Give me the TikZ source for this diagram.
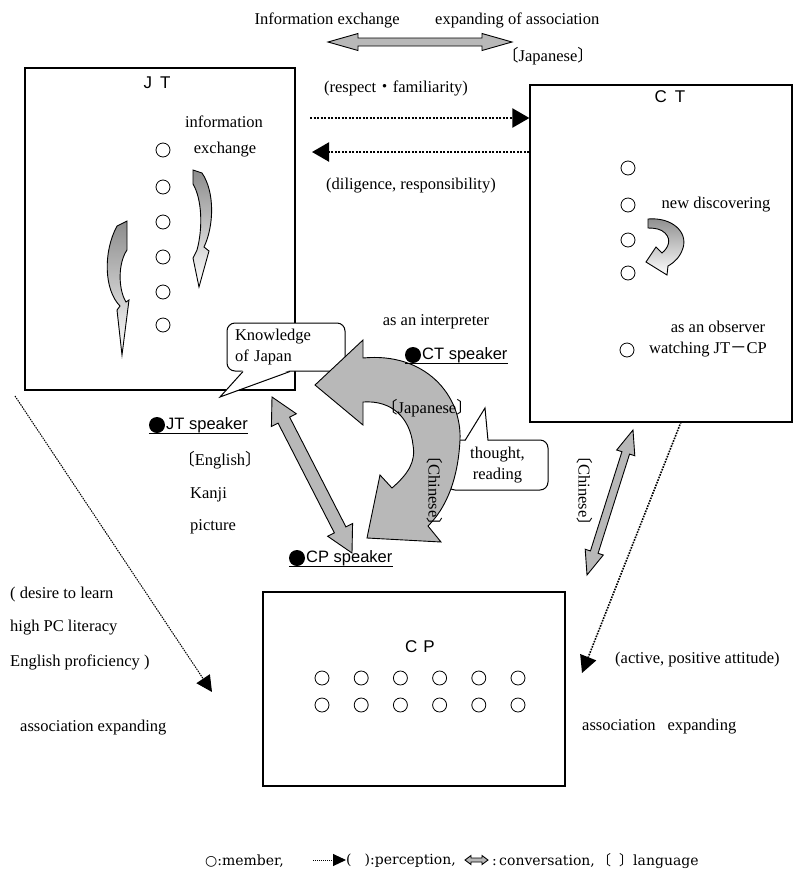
\documentclass[tikz,border=0pt]{standalone}
\usepackage{fontspec}
\setmainfont{Liberation Serif}
\setsansfont{Liberation Sans}
\newfontfamily\cjk{Noto Sans CJK JP}
\newfontfamily\legfont{DejaVu Serif}
\newfontfamily\symfont{DejaVu Sans}
\usepackage{tikz}
\usetikzlibrary{positioning,arrows.meta,calc}
\newcommand{\lbr}{\kern-0.45em{\cjk 〔}}
\newcommand{\rbr}{{\cjk 〕}\kern-0.45em}
\tikzset{
  >={Triangle[length=17pt,width=19pt]},
  lbl/.style={font=\fontsize{16.5}{20}\selectfont,inner sep=0pt},
  ttl/.style={font=\sffamily\fontsize{17}{20}\selectfont,inner sep=0pt},
  spk/.style={font=\sffamily\fontsize{16.5}{20}\selectfont,inner sep=0pt,anchor=west},
  grpbox/.style={draw,line width=1.2pt,inner sep=0pt},
  memb/.style={circle,draw,line width=0.8pt,minimum size=14pt,inner sep=0pt},
  spkdot/.style={circle,fill,minimum size=16pt,inner sep=0pt},
  perc/.style={->,line width=2.2pt,dash pattern=on 2pt off 1.5pt},
  percthin/.style={-{Triangle[length=16pt,width=16pt]},line width=1pt,dash pattern=on 1.5pt off 1pt},
  conv/.style={draw,line width=0.9pt,fill=black!28,line join=miter},
  bubble/.style={draw,line width=1pt,fill=white,rounded corners=8pt,inner sep=0pt,align=left,
    font=\fontsize{16.5}{21}\selectfont},
  turn/.style={draw,line width=0.9pt,top color=black!45,middle color=white,bottom color=white},
  leg/.style={font=\legfont\fontsize{14}{16}\selectfont,inner sep=0pt,anchor=west},
}
% hollow double arrow between two named points
\newcommand{\convarrow}[5]{%
  \path (#1) coordinate (ca) (#2) coordinate (cb);
  \path ($(ca)!#5!(cb)$) coordinate (ca1) ($(cb)!#5!(ca)$) coordinate (cb1);
  \draw[conv] (ca) -- ($(ca1)!#4!90:(cb)$) -- ($(ca1)!#3!90:(cb)$)
    -- ($(cb1)!#3!-90:(ca)$) -- ($(cb1)!#4!-90:(ca)$) -- (cb)
    -- ($(cb1)!#4!90:(ca)$) -- ($(cb1)!#3!90:(ca)$)
    -- ($(ca1)!#3!-90:(cb)$) -- ($(ca1)!#4!-90:(cb)$) -- cycle;
}
\begin{document}
\begin{tikzpicture}[x=1pt,y=-1pt]
  \useasboundingbox (0,0) rectangle (799,871);
  % group boxes
  \node[grpbox,minimum width=270pt,minimum height=322pt] (jt) at (160,229) {};
  \node[grpbox,minimum width=262pt,minimum height=337pt] (ct) at (661,253.5) {};
  \node[grpbox,minimum width=302pt,minimum height=194pt] (cp) at (414,689) {};
  \node[ttl] (jtname) at (157,83) {J\hspace{8pt}T};
  \node[ttl] (ctname) at (670,97) {C\hspace{8pt}T};
  \node[ttl] (cpname) at (420,647) {C\hspace{6pt}P};
  % members
  \foreach \y [count=\i] in {150,187,222,257,292,325} {\node[memb] (jtm\i) at (163,\y) {};}
  \foreach \y [count=\i] in {168,205,240,273} {\node[memb] (ctm\i) at (628,\y) {};}
  \node[memb] (ctobs) at (627,350) {};
  \foreach \i in {0,...,5} {
    \node[memb] (cpa\i) at (322+39.2*\i,678) {};
    \node[memb] (cpb\i) at (322+39.2*\i,705) {};}
  % inside JT
  \node[lbl] (jtinfo) at (224,122) {information};
  \node[lbl] (jtexch) at (225,150) {exchange};
  \draw[turn] (193,170) -- (202,173) .. controls (215,192) and (214,226) .. (204,247) -- (209,251) -- (199,287)
    -- (193,258) -- (197,250) .. controls (203,228) and (202,199) .. (193,184) -- cycle;
  \draw[turn] (117,226) -- (127,221) -- (127,250) .. controls (118,263) and (118,289) .. (126,302) -- (129,300)
    -- (122,355) -- (117,310) -- (120,306) .. controls (104,290) and (103,252) .. (117,226) -- cycle;
  % inside CT
  \node[lbl] (ctnew) at (716,205) {new discovering};
  \draw[turn] (648,219) .. controls (672,217) and (688,232) .. (683,248) .. controls (680,257) and (675,262) .. (668,266)
    -- (667,275) -- (646,262) -- (656,247) -- (662,253) .. controls (668,248) and (672,240) .. (665,233)
    .. controls (661,229) and (655,228) .. (648,228) -- cycle;
  \node[lbl] (ctobsl) at (718,327) {as an observer};
  \node[lbl] (ctwatch) at (708,350) {watching JT{\cjk －}CP};
  % top conversation
  \node[lbl,anchor=east] (topl) at (400,20) {Information exchange};
  \node[lbl,anchor=west] (topr) at (435,20) {expanding of association};
  \coordinate (tca) at (328,42);
  \coordinate (tcb) at (512,42);
  \convarrow{tca}{tcb}{4pt}{8.5pt}{30pt}
  \node[lbl] (topjp) at (548,56) {\lbr Japanese\rbr};
  % perception JT - CT
  \node[lbl] (resp) at (396,88) {(respect{\cjk ・}familiarity)};
  \coordinate (p1a) at (310,118);
  \draw[perc] (p1a) -- (ct.west |- p1a);
  \coordinate (p2b) at (312,152);
  \draw[perc] (ct.west |- p2b) -- (p2b);
  \node[lbl] (dili) at (411,186) {(diligence, responsibility)};
  % bubbles
  \node[bubble,minimum width=118pt,minimum height=48pt,text width=102pt] (know) at (286,347) {Knowledge\\of Japan};
  \fill[white] (243,370) -- (220,397) -- (290,370) -- cycle;
  \draw[line width=1pt] (243,371.5) -- (220,397) -- (290,371.5);
  \node[bubble,minimum width=101pt,minimum height=50pt,align=center] (think) at (497.5,465) {thought,\\reading};
  \fill[white] (465,441) -- (485,408) -- (488,441) -- cycle;
  \draw[line width=1pt] (465,440.5) -- (485,408) -- (488,440.5);
  % interpreter loop
  \node[lbl] (interp) at (436,322) {as an interpreter};
  \draw[conv] (315,385) -- (363,340) -- (363,358) .. controls (425,352) and (462,395) .. (460,440)
    .. controls (458,480) and (446,508) .. (428,526) -- (441,542) -- (367,538) -- (380,475) -- (392,488)
    .. controls (408,474) and (416,462) .. (413,445) .. controls (410,418) and (392,400) .. (363,402)
    -- (363,425) -- cycle;
  \node[lbl] (loopjp) at (427,408) {\lbr Japanese\rbr};
  \node[lbl,rotate=-90] (loopcn) at (435,491) {\lbr Chinese\rbr};
  % speakers
  \node[spkdot] (ctdot) at (413,355) {};
  \node[spk] (ctspk) at (422,355) {CT speaker};
  \draw[line width=1pt] (ctdot.west |- ctdot.south) -- (ctspk.east |- ctdot.south);
  \node[spkdot] (jtdot) at (157,425) {};
  \node[spk] (jtspk) at (166,425) {JT speaker};
  \draw[line width=1pt] (jtdot.west |- jtdot.south) -- (jtspk.east |- jtdot.south);
  \node[spkdot] (cpdot) at (297,558) {};
  \node[spk] (cpspk) at (306,558) {CP speaker};
  \draw[line width=1pt] (cpdot.west |- cpdot.south) -- (cpspk.east |- cpdot.south);
  \node[lbl] (jteng) at (220,460) {\lbr English\rbr};
  \node[lbl,anchor=west] (kanji) at (190,495) {Kanji};
  \node[lbl,anchor=west] (pict) at (190,527) {picture};
  % JT - CP and CT - CP conversation
  \coordinate (jca) at (272,397);
  \coordinate (jcb) at (352,553);
  \convarrow{jca}{jcb}{6.5pt}{14pt}{26pt}
  \coordinate (cca) at (633,430);
  \coordinate (ccb) at (587,575);
  \convarrow{cca}{ccb}{4pt}{9.5pt}{24pt}
  \node[lbl,rotate=-90] (ctcn) at (585,491) {\lbr Chinese\rbr};
  % perception towards CP
  \coordinate (jpa) at (15,396);
  \draw[percthin] (jpa) -- (212,692) coordinate (jpb);
  \coordinate (cpa) at (681,422);
  \draw[perc,line width=1.6pt,dash pattern=on 1.6pt off 1.2pt,-{Triangle[length=17pt,width=17pt]}] (cpa) -- (582,673) coordinate (cpz);
  % side notes
  \node[lbl,anchor=west] (des1) at (10,595) {( desire to learn};
  \node[lbl,anchor=west] (des2) at (10,628) {high PC literacy};
  \node[lbl,anchor=west] (des3) at (10,662) {English proficiency )};
  \node[lbl,anchor=west] (jtexp) at (20,728) {association expanding};
  \node[lbl,anchor=west] (act) at (615,660) {(active, positive attitude)};
  \node[lbl,anchor=west] (ctexp) at (582,727) {association\hspace{12pt}expanding};
  % legend
  \node[leg] (lgm) at (205,861) {{\symfont ○}:member,};
  \coordinate (lga) at (313,860);
  \coordinate (lgb) at (346,860);
  \draw[-{Triangle[length=13pt,width=12pt]},line width=1pt,dash pattern=on 1pt off 1pt] (lga) -- (lgb);
  \node[leg] (lgp) at (346,861) {(\hspace{13pt}):perception,};
  \coordinate (lgc1) at (465,860);
  \coordinate (lgc2) at (488,860);
  \convarrow{lgc1}{lgc2}{2pt}{4.5pt}{6pt}
  \node[leg] (lgc) at (492,861) {:\,conversation,};
  \node[leg] (lgl) at (597,861) {{\cjk 〔}\hspace{8pt}{\cjk 〕}language};
\end{tikzpicture}
\end{document}
